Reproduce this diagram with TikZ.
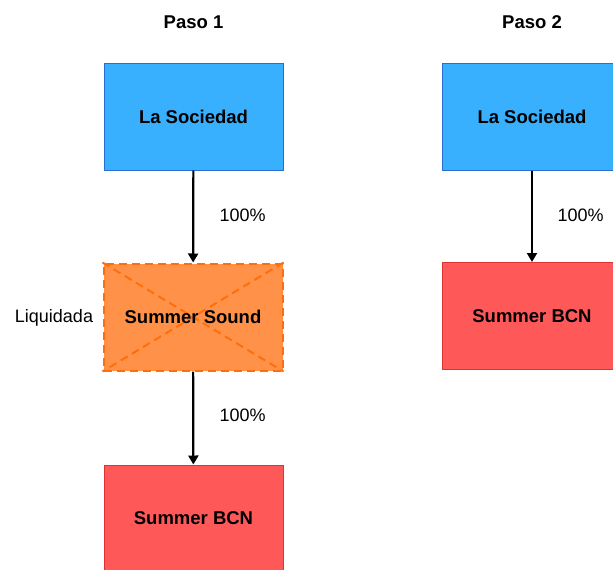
\documentclass[tikz,border=0pt]{standalone}
\usepackage{fontspec}
\setmainfont{Liberation Sans}
\usetikzlibrary{arrows.meta,positioning}

\definecolor{socblue}{RGB}{56,176,254}
\definecolor{socedge}{RGB}{40,110,210}
\definecolor{bcnred}{RGB}{255,88,88}
\definecolor{bcnedge}{RGB}{225,50,50}
\definecolor{liqorange}{RGB}{255,146,72}
\definecolor{liqedge}{RGB}{255,110,10}

\tikzset{
  box/.style={rectangle,minimum width=179pt,minimum height=107pt,inner sep=0pt,
    font=\fontsize{18.5}{22}\selectfont\bfseries},
  sociedad/.style={box,fill=socblue,draw=socedge,line width=1pt},
  bcn/.style={box,fill=bcnred,draw=bcnedge,line width=1pt},
  liquidada/.style={box,fill=liqorange,draw=liqedge,line width=2pt,
    dash pattern=on 8pt off 5pt},
  pct/.style={font=\fontsize{18}{22}\selectfont,anchor=west},
  owns/.style={-{Triangle[length=9pt,width=10pt]},line width=2.2pt}
}

\begin{document}
\begin{tikzpicture}[x=1pt,y=-1pt]
      \clip (0,0) rectangle (613,570);
      \fill[white] (0,0) rectangle (613,570);

      % Paso 1
      \node[font=\fontsize{18.5}{22}\selectfont\bfseries] (P1) at (193.5,22) {Paso 1};
      \node[sociedad] (SOC1) at (193.5,116.5) {La Sociedad};
      \node[liquidada] (SOUND) at (193,317) {};
      \draw[liqedge,line width=2pt,dash pattern=on 8pt off 5pt]
        (SOUND.north west) -- (SOUND.south east)
        (SOUND.north east) -- (SOUND.south west);
      \node[font=\fontsize{18.5}{22}\selectfont\bfseries] (SOUNDTXT) at (SOUND) {Summer Sound};
      \node[font=\fontsize{18}{22}\selectfont] (LIQ) at (54,318) {Liquidada};
      \node[bcn] (BCN1) at (193.5,518.5) {Summer BCN};

      \draw[owns] (SOC1) -- (SOUND);
      \draw[owns] (SOUND) -- (BCN1);
      \node[pct] (PCT1) at (216,215) {100\%};
      \node[pct] (PCT2) at (216,415) {100\%};

      % Paso 2
      \node[font=\fontsize{18.5}{22}\selectfont\bfseries] (P2) at (532,22) {Paso 2};
      \node[sociedad] (SOC2) at (532,116.5) {La Sociedad};
      \node[bcn] (BCN2) at (532,316) {Summer BCN};

      \draw[owns] (SOC2) -- (BCN2);
      \node[pct] (PCT3) at (554,215) {100\%};
\end{tikzpicture}
\end{document}
